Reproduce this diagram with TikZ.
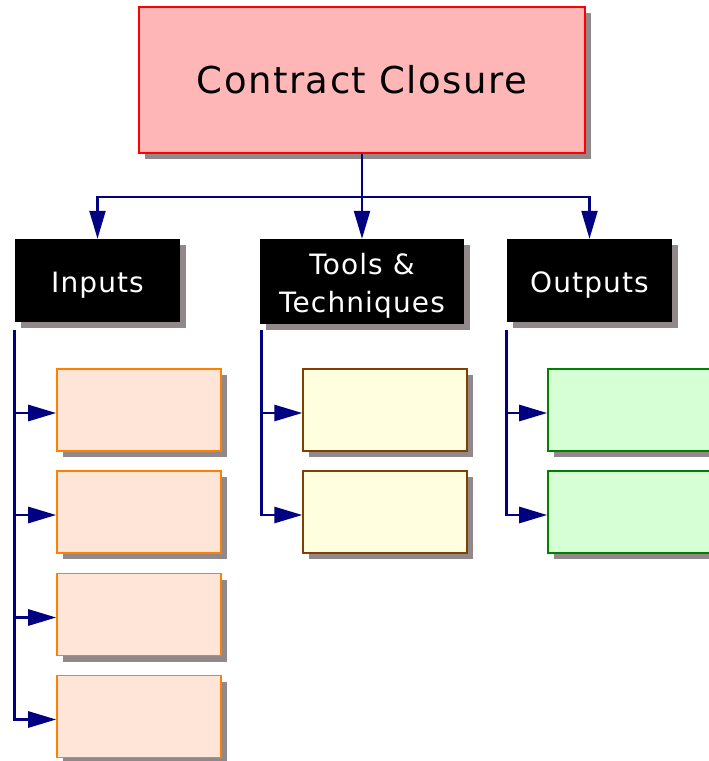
\documentclass[tikz,border=0pt]{standalone}
\usepackage{fontspec}
\setmainfont{DejaVu Sans}
\newfontfamily\lsfont[LetterSpace=4]{DejaVu Sans}
\usetikzlibrary{shadows,arrows.meta,calc}
\definecolor{navyline}{RGB}{0,0,128}
\definecolor{topfill}{RGB}{255,182,182}
\definecolor{infill}{RGB}{255,228,216}
\definecolor{inborder}{RGB}{255,128,0}
\definecolor{toolfill}{RGB}{255,255,224}
\definecolor{toolborder}{RGB}{128,64,0}
\definecolor{outfill}{RGB}{214,255,214}
\definecolor{outborder}{RGB}{0,128,0}
\definecolor{shadowgray}{RGB}{145,137,137}
\newcommand\lowtext[1]{\raisebox{-4.5pt}[\height][\depth]{#1}}
\tikzset{
  shadowed/.style={drop shadow={shadow xshift=6pt,shadow yshift=-6pt,fill=shadowgray,opacity=1}},
  topbox/.style={shadowed,rectangle,draw=red,line width=1.7pt,fill=topfill,
    minimum width=446pt,minimum height=146pt,inner sep=0pt,
    font=\lsfont\fontsize{37}{44}\selectfont},
  hdrbox/.style={shadowed,rectangle,fill=black,text=white,inner sep=0pt,align=center,
    minimum height=83pt,font=\lsfont\fontsize{28}{38}\selectfont},
  smallbox/.style={shadowed,rectangle,line width=1.6pt,minimum width=164pt,minimum height=82pt,inner sep=0pt},
  inbox/.style={smallbox,draw=inborder,fill=infill},
  toolbox/.style={smallbox,draw=toolborder,fill=toolfill,line width=1.4pt},
  outbox/.style={smallbox,draw=outborder,fill=outfill},
  conn/.style={draw=navyline,line width=2.2pt},
  branch/.style={draw=navyline,line width=2.8pt},
  >={Triangle[length=28pt,width=16pt]}
}
\begin{document}
\begin{tikzpicture}[x=1pt,y=-1pt]
\useasboundingbox (0,0) rectangle (709,761);
\clip (0,0) rectangle (709,761);
% top
\node[topbox] (top) at (362,80) {Contract Closure};
% headers
\node[hdrbox,minimum width=165pt] (inhdr) at (97.5,280.5) {\lowtext{Inputs}};
\node[hdrbox,minimum width=204pt,minimum height=85pt] (toolhdr) at (362,281.5)
  {\lowtext{\begin{tabular}{@{}c@{}}Tools \&\\Techniques\end{tabular}}};
\node[hdrbox,minimum width=165pt] (outhdr) at (589.5,280.5) {\lowtext{Outputs}};
% input boxes
\node[inbox] (in1) at (139,410) {};
\node[inbox] (in2) at (139,512) {};
\node[inbox] (in3) at (139,614.5) {};
\node[inbox] (in4) at (139,716.5) {};
% tool boxes
\node[toolbox] (tl1) at (385,410) {};
\node[toolbox] (tl2) at (385,512) {};
% output boxes
\node[outbox] (ou1) at (630,410) {};
\node[outbox] (ou2) at (630,512) {};
% top connectors
\draw[conn] (top.south) -- ++(0,43) coordinate (j);
\draw[conn,->] (j) -| (inhdr.north);
\draw[conn,->] (j) -- (toolhdr.north);
\draw[conn,->] (j) -| (outhdr.north);
% arrow targets
\foreach \n in {in1,in2,in3,in4,tl1,tl2,ou1,ou2}{
  \coordinate (t\n) at ([yshift=-3pt]\n.west);
}
% inputs branch
\coordinate (ia) at ([yshift=-8pt]inhdr.south west);
\draw[branch,->] (ia) |- (tin4);
\draw[branch,->] (ia |- tin1) -- (tin1);
\draw[branch,->] (ia |- tin2) -- (tin2);
\draw[branch,->] (ia |- tin3) -- (tin3);
% tools branch
\coordinate (ta) at ([xshift=2pt,yshift=-6pt]toolhdr.south west);
\draw[branch,->] (ta) |- (ttl2);
\draw[branch,->] (ta |- ttl1) -- (ttl1);
% outputs branch
\coordinate (oa) at ([yshift=-8pt]outhdr.south west);
\draw[branch,->] (oa) |- (tou2);
\draw[branch,->] (oa |- tou1) -- (tou1);
\end{tikzpicture}
\end{document}
